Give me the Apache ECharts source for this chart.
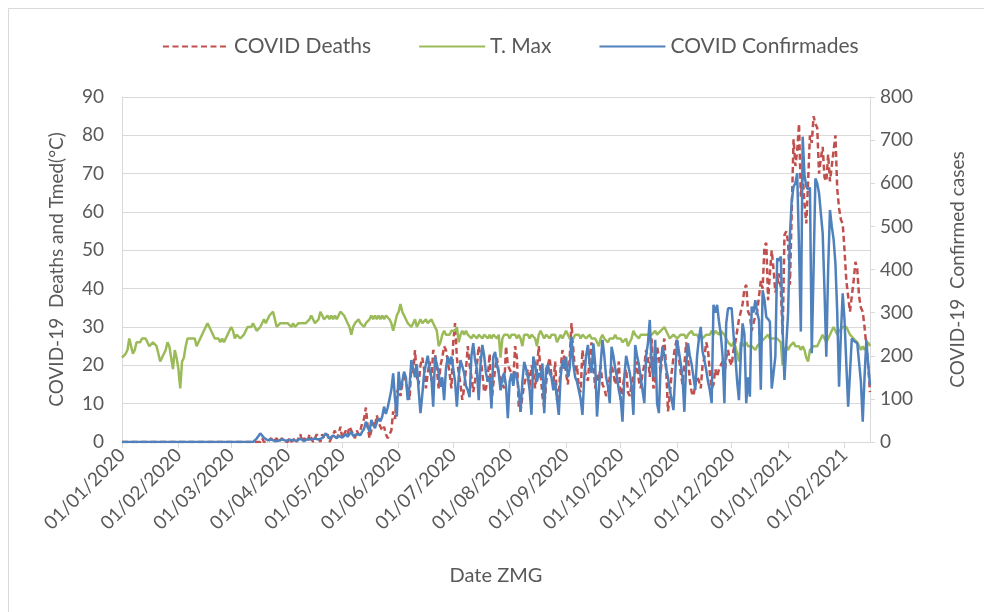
<!DOCTYPE html>
<html><head><meta charset="utf-8">
<script src="https://cdn.jsdelivr.net/npm/echarts@6/dist/echarts.min.js"></script>
<style>html,body{margin:0;padding:0;background:#fff}#c{width:984px;height:612px}</style>
</head><body><div id="c"></div>
<script>
// ---- data (daily, 01/01/2020 .. 15/02/2021) ----
const startYear = 2020, startMonth = 0, startDay = 1, dayCount = 412;

const deaths = [
// Jan 2020
0,0,0,0,0,0,0,0,0,0, 0,0,0,0,0,0,0,0,0,0, 0,0,0,0,0,0,0,0,0,0, 0,
// Feb
0,0,0,0,0,0,0,0,0,0, 0,0,0,0,0,0,0,0,0,0, 0,0,0,0,0,0,0,0,0,
// Mar
0,0,0,0,0,0,0,0,0,0, 0,0,0,0,0,0,0,1,0,0, 0,0,1,0,0,1,0,0,1,0, 0,
// Apr
0,1,0,0,1,0,1,2,0,1, 1,0,2,1,0,1,2,1,0,2, 1,1,2,0,1,2,3,1,2,4,
// May
1,2,3,2,4,3,2,1,3,2, 3,5,6,9,4,1,3,5,4,7, 5,4,3,4,2,1,1,3,8,6, 13,
// Jun
14,12,15,18,16,13,11,20,18,24, 17,15,20,22,19,14,18,21,16,24, 23,19,14,20,22,25,24,21,18,14,
// Jul
26,31,22,18,15,11,14,19,25,20, 17,13,16,20,25,22,18,13,14,17, 23,10,15,19,22,18,16,15,14,25, 20,
// Aug
20,18,16,25,22,9,8,12,15,17, 19,14,20,18,14,19,25,18,12,9, 15,20,22,17,15,21,11,13,19,24, 22,
// Sep
18,15,22,31,24,18,20,14,13,24, 20,17,16,22,26,20,14,18,16,20, 15,14,12,13,17,20,18,15,17,21,
// Oct
11,14,17,19,13,12,15,17,18,21, 16,14,18,20,24,22,17,27,14,15, 25,22,18,24,27,19,8,12,18,22, 25,
// Nov
27,22,18,15,20,26,22,16,13,12, 15,17,16,14,20,22,26,24,18,14, 15,19,17,19,20,21,17,22,24,21,
// Dec
20,24,26,29,32,34,36,40,41,34, 33,29,31,33,34,38,42,40,51,52, 37,44,50,45,39,41,44,40,28,54, 55,
// Jan 2021
52,41,60,79,72,76,83,64,70,62, 57,68,80,78,85,83,82,70,74,77, 69,68,75,68,72,76,80,66,61,58, 57,
// Feb 2021
50,42,38,34,38,42,47,45,38,35, 34,30,25,20,13
];

const tmax = [
// Jan 2020
22,22,23,24,27,25,23,24,26,26, 26,27,27,27,26,25,25,26,26,25, 23,21,22,23,24,26,25,22,19,24, 22,
// Feb
19,14,21,22,25,27,27,27,27,27, 25,26,27,27,29,30,31,31,29,28, 27,27,27,26,27,26,27,28,29,
// Mar
30,29,27,28,28,27,27,28,29,30, 30,30,31,30,29,29,30,31,32,31, 32,33,33,34,32,30,30,31,31,31, 31,
// Apr
31,31,30,31,30,30,31,31,31,31, 31,31,32,33,32,31,31,32,34,33, 32,32,33,32,33,32,33,32,33,34,
// May
34,33,32,31,30,28,30,31,31,32, 31,31,30,31,31,32,33,32,33,32, 33,32,33,32,33,33,32,31,29,31, 33,
// Jun
34,36,34,33,32,31,31,30,31,32, 30,31,32,31,31,32,31,31,32,31, 31,29,25,26,28,29,28,28,28,29,
// Jul
29,29,30,26,28,29,28,29,28,28, 27,28,28,27,28,28,27,28,28,27, 28,27,28,28,27,28,22,27,28,28, 28,
// Aug
27,28,28,28,27,28,27,25,28,28, 28,27,28,28,27,25,28,29,28,27, 28,28,27,28,28,28,26,27,28,27, 28,
// Sep
29,29,27,26,27,28,28,28,27,28, 28,27,27,28,27,27,27,26,25,27, 28,27,27,26,27,27,27,28,27,27,
// Oct
27,26,26,27,25,26,27,29,28,28, 27,28,28,28,28,28,28,28,28,29, 28,28,29,29,30,29,28,27,27,28, 28,
// Nov
27,27,28,28,28,27,28,28,29,28, 28,28,27,28,27,27,28,28,28,29, 28,29,29,28,29,29,28,28,26,26,
// Dec
25,26,25,25,21,26,26,25,26,25, 25,25,25,24,25,25,26,26,27,27, 28,27,27,27,27,27,27,26,20,24, 25,
// Jan 2021
24,25,25,26,25,25,25,24,25,24, 22,21,24,24,25,25,25,26,27,28, 27,26,27,28,29,30,29,28,29,29, 30,
// Feb 2021
30,30,29,28,28,27,27,26,26,24, 25,24,25,26,25
];

const confirmed = [
// Jan 2020
0,0,0,0,0,0,0,0,0,0, 0,0,0,0,0,0,0,0,0,0, 0,0,0,0,0,0,0,0,0,0, 0,
// Feb
0,0,0,0,0,0,0,0,0,0, 0,0,0,0,0,0,0,0,0,0, 0,0,0,0,0,0,0,0,0,
// Mar
0,0,0,0,0,0,0,0,0,0, 0,0,0,3,8,14,20,16,10,6, 4,5,6,3,2,5,3,4,6,5, 3,
// Apr
3,5,2,4,6,3,5,8,4,2, 5,7,4,6,3,8,10,6,4,9, 12,20,14,8,10,15,12,9,14,18,
// May
10,14,18,12,16,24,14,10,18,22, 16,24,30,47,35,24,51,40,32,45, 55,48,59,82,65,80,100,121,159,100, 59,
// Jun
163,120,140,163,150,97,130,190,170,150, 180,120,67,110,159,180,200,170,150,82, 198,180,160,128,150,97,170,198,180,198,
// Jul
170,140,82,150,190,175,160,130,120,104, 200,229,190,170,97,180,225,200,160,140, 150,78,198,209,180,160,120,150,160,130, 55,
// Aug
140,159,130,163,150,120,70,140,186,170, 150,120,63,198,182,140,160,150,182,67, 170,179,160,150,120,140,100,63,150,190, 170,
// Sep
198,150,170,244,180,150,140,120,100,63, 150,200,225,180,160,229,180,59,120,180, 237,200,150,130,90,221,200,170,150,120,
// Oct
100,47,150,200,180,160,130,63,225,200, 180,150,120,90,200,230,283,180,150,237, 90,67,180,221,200,170,150,120,100,74, 160,
// Nov
237,210,182,150,70,180,229,200,180,150, 121,200,240,267,210,190,167,140,120,90, 318,300,318,280,250,200,90,275,310,306,
// Dec
310,250,200,140,97,200,275,250,90,150, 105,314,300,329,300,283,121,352,330,290, 285,279,124,160,198,426,420,430,260,144, 225,
// Jan 2021
300,480,560,592,600,623,450,256,708,620, 592,585,590,206,400,611,600,577,530,484, 350,198,400,538,500,470,414,300,128,250, 345,
// Feb 2021
283,180,82,160,240,235,232,229,225,140, 47,150,237,180,132
];

const seriesNames = ['COVID Deaths', 'T. Max', 'COVID Confirmades'];
const leftTicks = {min: 0, max: 90, step: 10};
const rightTicks = {min: 0, max: 800, step: 100};

// category labels (one per day)
const dates = [];
for (let i = 0; i < dayCount; i++) {
  const d = new Date(Date.UTC(startYear, startMonth, startDay + i));
  const dd = String(d.getUTCDate()).padStart(2, '0');
  const mm = String(d.getUTCMonth() + 1).padStart(2, '0');
  dates.push(dd + '/' + mm + '/' + d.getUTCFullYear());
}

const FONT = 'Lato, "Noto Sans", sans-serif';
const TXT = '#595959';
const GRID = '#d9d9d9';
const isMonthStart = (idx, val) => dates[idx].slice(0, 2) === '01';

const chart = echarts.init(document.getElementById('c'), null, {renderer: 'canvas'});
chart.setOption({
  animation: false,
  backgroundColor: '#fff',
  textStyle: {fontFamily: FONT},
  graphic: [{
    type: 'rect', silent: true, z: -10,
    shape: {x: 8.5, y: 8.5, width: 1000, height: 700},
    style: {fill: null, stroke: GRID, lineWidth: 1}
  }],
  legend: {
    top: 31, left: 157,
    itemWidth: 66, itemHeight: 14, itemGap: 47,
    itemStyle: {opacity: 0},
    textStyle: {fontSize: 21, color: TXT, fontFamily: FONT},
    data: seriesNames
  },
  grid: {left: 122, right: 114, top: 97, bottom: 170, containLabel: false},
  xAxis: {
    type: 'category', data: dates, boundaryGap: false,
    axisLine: {lineStyle: {color: GRID, width: 1}},
    axisTick: {show: true, interval: isMonthStart, length: 6, lineStyle: {color: GRID}},
    axisLabel: {interval: isMonthStart, rotate: 45, fontSize: 19, color: TXT, margin: 10, fontFamily: FONT},
    splitLine: {show: false},
    name: 'Date ZMG', nameLocation: 'middle', nameGap: 124,
    nameTextStyle: {fontSize: 20, color: TXT, fontFamily: FONT}
  },
  yAxis: [{
    type: 'value', min: leftTicks.min, max: leftTicks.max, interval: leftTicks.step,
    axisLine: {show: true, lineStyle: {color: GRID}},
    axisTick: {show: false},
    axisLabel: {fontSize: 19, color: TXT, margin: 18, fontFamily: FONT},
    splitLine: {show: true, lineStyle: {color: GRID, width: 1}},
    name: 'COVID-19  Deaths and Tmed(°C)', nameLocation: 'middle', nameGap: 56, nameRotate: 90,
    nameTextStyle: {fontSize: 19, color: TXT, fontFamily: FONT}
  }, {
    type: 'value', min: rightTicks.min, max: rightTicks.max, interval: rightTicks.step,
    position: 'right',
    axisLine: {show: true, lineStyle: {color: GRID}},
    axisTick: {show: true, length: 5, lineStyle: {color: GRID}},
    axisLabel: {fontSize: 19, color: TXT, margin: 10, fontFamily: FONT},
    splitLine: {show: false},
    name: 'COVID-19  Confirmed cases', nameLocation: 'middle', nameGap: 78, nameRotate: 90,
    nameTextStyle: {fontSize: 19, color: TXT, fontFamily: FONT}
  }],
  series: [{
    name: seriesNames[0], type: 'line', yAxisIndex: 0, data: deaths,
    symbol: 'none', lineStyle: {color: '#C0504D', width: 2.5, type: [6, 3.5]},
    itemStyle: {color: '#C0504D'}
  }, {
    name: seriesNames[1], type: 'line', yAxisIndex: 0, data: tmax,
    symbol: 'none', lineStyle: {color: '#9BBB59', width: 2.5},
    itemStyle: {color: '#9BBB59'}
  }, {
    name: seriesNames[2], type: 'line', yAxisIndex: 1, data: confirmed,
    symbol: 'none', lineStyle: {color: '#4F81BD', width: 2.5},
    itemStyle: {color: '#4F81BD'}
  }]
});
</script>
</body></html>
